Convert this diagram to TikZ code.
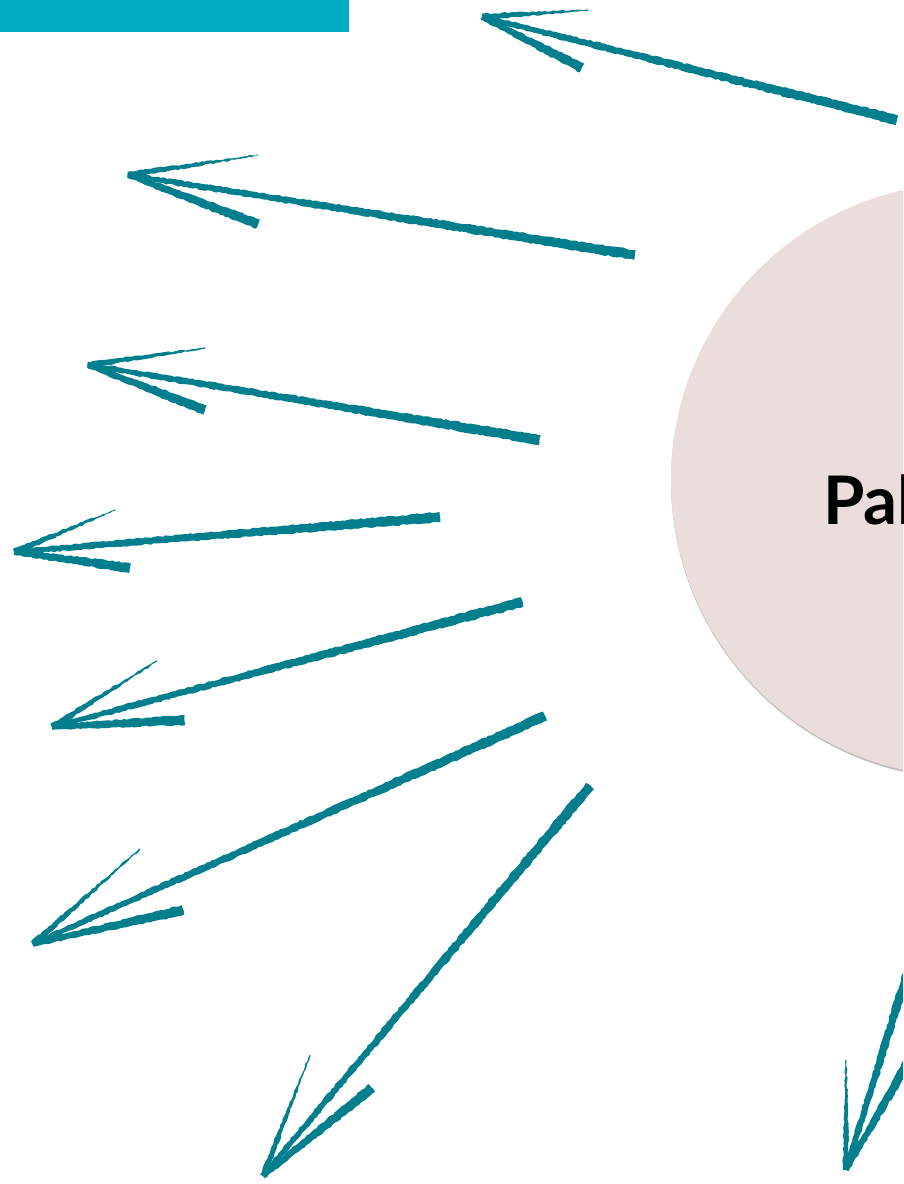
\documentclass[tikz,border=0pt]{standalone}
\usepackage{fontspec}
\newfontfamily\latofont{Lato}
\usetikzlibrary{calc,decorations.pathmorphing}
\definecolor{barcol}{RGB}{0,172,195}
\definecolor{ink}{RGB}{3,126,140}
\definecolor{disc}{RGB}{234,221,219}
\tikzset{
  brushfill/.style={fill=ink, decorate, decoration={random steps, segment length=3pt, amplitude=0.7pt}},
  discstyle/.style={circle, fill=disc, inner sep=0pt, minimum size=594pt},
}
% tapered brush stroke from #1 (half width #3) to #2 (half width #4)
\newcommand\brushstroke[4]{%
  \fill[brushfill] ($(#1)!#3!90:(#2)$) -- ($(#2)!#4!-90:(#1)$) -- ($(#2)!#4!90:(#1)$) -- ($(#1)!#3!-90:(#2)$) -- cycle;}
% arrow: tail, tip, thin barb end, thick barb end
\newcommand\sketcharrow[4]{%
  \brushstroke{#1}{#2}{5pt}{2.6pt}%
  \brushstroke{#2}{#3}{3.2pt}{0.6pt}%
  \brushstroke{#2}{#4}{2.6pt}{5pt}%
}
\begin{document}
\begin{tikzpicture}[x=1pt,y=-1pt]
\useasboundingbox (0,0) rectangle (903,1184);
\clip (0,0) rectangle (903,1184);
\fill[white] (0,0) rectangle (903,1184);
% top bar
\fill[barcol] (0,0) rectangle (349,32);
% disc with faint shadow
\node[circle, fill=black!25, inner sep=0pt, minimum size=595pt] (shadow) at (968.5,481.5) {};
\node[discstyle] (disc) at (968,480) {};
\node[anchor=base west, inner sep=0pt, font=\latofont\bfseries\fontsize{67}{67}\selectfont] (title) at (823,524) {Pal};
% arrow coordinates
\coordinate (t1) at (897,120); \coordinate (p1) at (482,17);  \coordinate (u1) at (588,10);  \coordinate (l1) at (582,68);
\coordinate (t2) at (635,255); \coordinate (p2) at (128,175); \coordinate (u2) at (258,155); \coordinate (l2) at (258,224);
\coordinate (t3) at (540,440); \coordinate (p3) at (88,365);  \coordinate (u3) at (205,348); \coordinate (l3) at (205,410);
\coordinate (t4) at (440,517); \coordinate (p4) at (14,552);  \coordinate (u4) at (115,510); \coordinate (l4) at (130,568);
\coordinate (t5) at (522,602); \coordinate (p5) at (52,727);  \coordinate (u5) at (157,661); \coordinate (l5) at (185,720);
\coordinate (t6) at (545,716); \coordinate (p6) at (33,944);  \coordinate (u6) at (140,849); \coordinate (l6) at (183,910);
\coordinate (t7) at (590,786); \coordinate (p7) at (263,1176); \coordinate (u7) at (310,1055); \coordinate (l7) at (372,1088);
\coordinate (t8) at (930,900); \coordinate (p8) at (846,1170); \coordinate (u8) at (846,1060); \coordinate (l8) at (915,1050);
\sketcharrow{t1}{p1}{u1}{l1}
\sketcharrow{t2}{p2}{u2}{l2}
\sketcharrow{t3}{p3}{u3}{l3}
\sketcharrow{t4}{p4}{u4}{l4}
\sketcharrow{t5}{p5}{u5}{l5}
\sketcharrow{t6}{p6}{u6}{l6}
\sketcharrow{t7}{p7}{u7}{l7}
\sketcharrow{t8}{p8}{u8}{l8}
\end{tikzpicture}
\end{document}
